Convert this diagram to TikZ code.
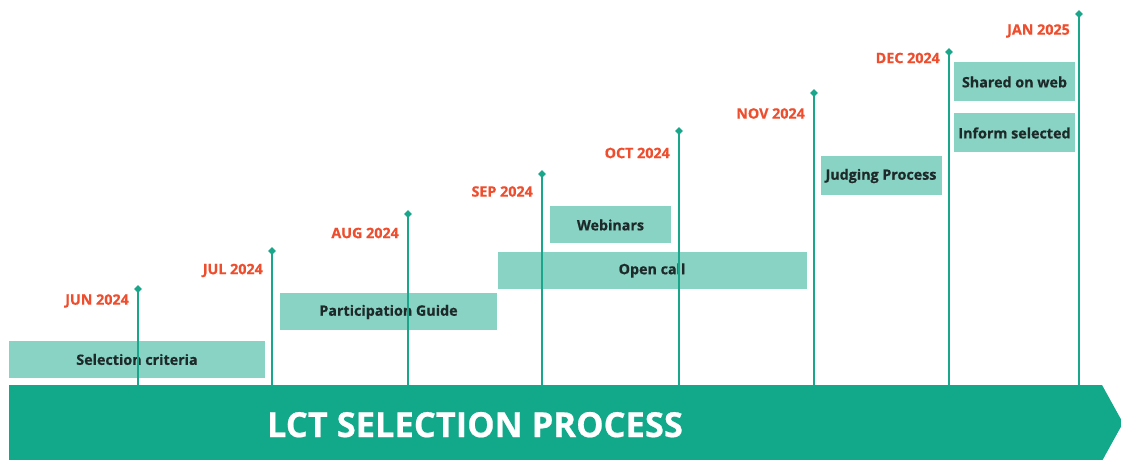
\documentclass[tikz,border=0pt]{standalone}
\usepackage{fontspec}
\setmainfont{Open Sans}[BoldFont={Open Sans Bold},BoldFeatures={FakeBold=0.6}]
\usetikzlibrary{shapes.geometric}
\definecolor{lctdark}{HTML}{12A88A}
\definecolor{lctline}{HTML}{1AA68A}
\definecolor{lctlight}{HTML}{88D3C4}
\definecolor{lctred}{HTML}{EE4E2E}
\definecolor{lcttext}{HTML}{1E2A2A}
\tikzset{
  taskbox/.style={fill=lctlight, draw=none, inner sep=0pt, text=lcttext,
    font=\bfseries\fontsize{14.3}{15}\selectfont},
  datelabel/.style={text=lctred, font=\bfseries\fontsize{14.3}{15}\selectfont, anchor=east, inner sep=0pt},
  tick/.style={diamond, fill=lctline, inner sep=0pt, minimum size=8pt},
  stem/.style={draw=lctline, line width=2.8pt},
}
\begin{document}
\begin{tikzpicture}[x=1pt,y=-1pt]
\useasboundingbox (0,0) rectangle (1121,460);
\clip (0,0) rectangle (1121,460);
% banner
\fill[lctdark] (9,385) -- (1102,385) -- (1123,423) -- (1102,461) -- (9,461) -- cycle;
\node[text=white, font=\bfseries\fontsize{34.5}{35}\selectfont] (banner) at (475,424.7) {LCT SELECTION PROCESS};
% task boxes
\path[taskbox] (9,341) rectangle (265,377.5);
\node[taskbox, fill=none] (sel) at (137,359.5) {Selection criteria};
\path[taskbox] (280,293) rectangle (497,329.5);
\node[taskbox, fill=none] (part) at (388.5,312) {Participation Guide};
\path[taskbox] (497.5,252) rectangle (806.5,288.5);
\node[taskbox, fill=none] (open) at (652,270.5) {Open call};
\path[taskbox] (550,206) rectangle (671,242.5);
\node[taskbox, fill=none] (web) at (610.5,225) {Webinars};
\path[taskbox] (820.5,156) rectangle (941.5,195);
\node[taskbox, fill=none] (judge) at (881,176) {Judging Process};
\path[taskbox] (954,62) rectangle (1075,101);
\node[taskbox, fill=none] (share) at (1014.5,82) {Shared on web};
\path[taskbox] (954,113) rectangle (1075,152);
\node[taskbox, fill=none] (inform) at (1014.5,133) {Inform selected};
% stems
\foreach \n/\x/\t/\ly/\lab in {
  jun/138/289/301/JUN 2024,
  jul/272/251/270.5/JUL 2024,
  aug/408/214/233/AUG 2024,
  sep/542/174/191.5/SEP 2024,
  oct/679/131/153/OCT 2024,
  nov/814/93/113.5/NOV 2024,
  dec/949/52/58/DEC 2024,
  jan/1079/14/31/JAN 2025}{
  \coordinate (\n-base) at (\x,386);
  \node[tick] (\n-top) at (\x,\t) {};
  \draw[stem] (\n-top.center) -- (\n-base);
  \node[datelabel] (\n-lab) at (\x-9,\ly) {\lab};
}
\end{tikzpicture}
\end{document}
